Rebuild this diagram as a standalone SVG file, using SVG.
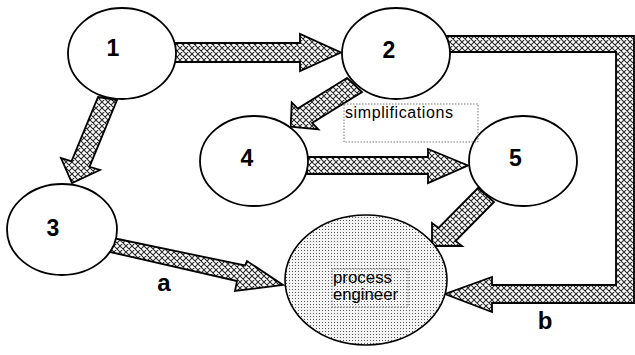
<svg xmlns="http://www.w3.org/2000/svg" width="635" height="355" viewBox="0 0 635 355">
<defs>
<pattern id="hatch" width="6" height="6" patternUnits="userSpaceOnUse">
<rect width="6" height="6" fill="#fff"/>
<path d="M0,0 L6,6 M6,0 L0,6 M-1,5 L1,7 M5,-1 L7,1 M-1,1 L1,-1 M5,7 L7,5" stroke="#2a2a2a" stroke-width="1.1" fill="none"/>
</pattern>
<pattern id="dots" width="3" height="3" patternUnits="userSpaceOnUse">
<rect width="3" height="3" fill="#f4f4f4"/>
<rect x="1" y="1" width="1" height="1" fill="#555"/>
</pattern>
</defs>
<style>
.arrow{fill:url(#hatch);stroke:#000;stroke-width:1.8;stroke-linejoin:miter}
.node{fill:#fff;stroke:#000;stroke-width:1.8}
.num{font-family:"Liberation Sans",Arial,sans-serif;font-weight:bold;font-size:23px;fill:#000;text-anchor:middle}
.lbl{font-family:"Liberation Sans",Arial,sans-serif;font-size:15px;fill:#000}
.box{fill:none;stroke:#777;stroke-width:1;stroke-dasharray:1.5,1.5}
</style>
<rect width="635" height="355" fill="#fff"/>
<g id="connectors">
<polygon class="arrow" points="175,43 300,43 300,34 341,52.5 300,71 300,62 175,62"/>
<polygon class="arrow" points="307,157 428,157 428,149 468,165.5 428,183 428,174 307,174"/>
<polygon class="arrow" points="98,97 117,100 89.5,166.8 100,170 72,183 61,158 71.5,161.3"/>
<polygon class="arrow" points="347,78 297.8,108.6 291.7,102.3 290.7,126.7 318.3,129.3 312.1,123 362,92"/>
<polygon class="arrow" points="478,188 438.5,228 432,223 432,246 462,246 455.5,241 494,202"/>
<polygon class="arrow" points="113,238 245,265.5 247,261 283,285 235,291 237,281 110,252"/>
<polygon class="arrow" points="444,36 634,36 634,303 492,303 492,312 445,294 492,277 492,285 616,285 616,52 444,52"/>
<text class="num" x="164" y="291" style="font-size:24px">a</text>
<text class="num" x="545" y="329" style="font-size:24px">b</text>
</g>
<g id="node1">
<ellipse class="node" cx="122" cy="53.5" rx="54" ry="45.5"/>
<text class="num" x="113" y="56">1</text>
</g>
<g id="node2">
<ellipse class="node" cx="396" cy="53.5" rx="54" ry="45.5"/>
<text class="num" x="389" y="58">2</text>
</g>
<g id="node3">
<ellipse class="node" cx="62" cy="229.5" rx="55" ry="45.5"/>
<text class="num" x="53" y="235.5">3</text>
</g>
<g id="node4">
<ellipse class="node" cx="254" cy="161" rx="54" ry="45"/>
<text class="num" x="247" y="166">4</text>
</g>
<g id="node5">
<ellipse class="node" cx="523" cy="161" rx="54" ry="45"/>
<text class="num" x="515.5" y="166">5</text>
</g>
<g id="simplifications">
<rect class="box" x="344" y="104" width="134" height="38"/>
<text class="lbl" x="345" y="118" style="font-size:16px" textLength="108" lengthAdjust="spacing">simplifications</text>
</g>
<g id="process-engineer">
<ellipse cx="366" cy="280" rx="81" ry="65" fill="url(#dots)" stroke="#000" stroke-width="1.6"/>
<rect class="box" x="332" y="269" width="76" height="38"/>
<text class="lbl" x="333" y="283" style="font-size:16px" textLength="59" lengthAdjust="spacingAndGlyphs">process</text>
<text class="lbl" x="333" y="300" style="font-size:16px" textLength="65" lengthAdjust="spacingAndGlyphs">engineer</text>
</g>
</svg>
